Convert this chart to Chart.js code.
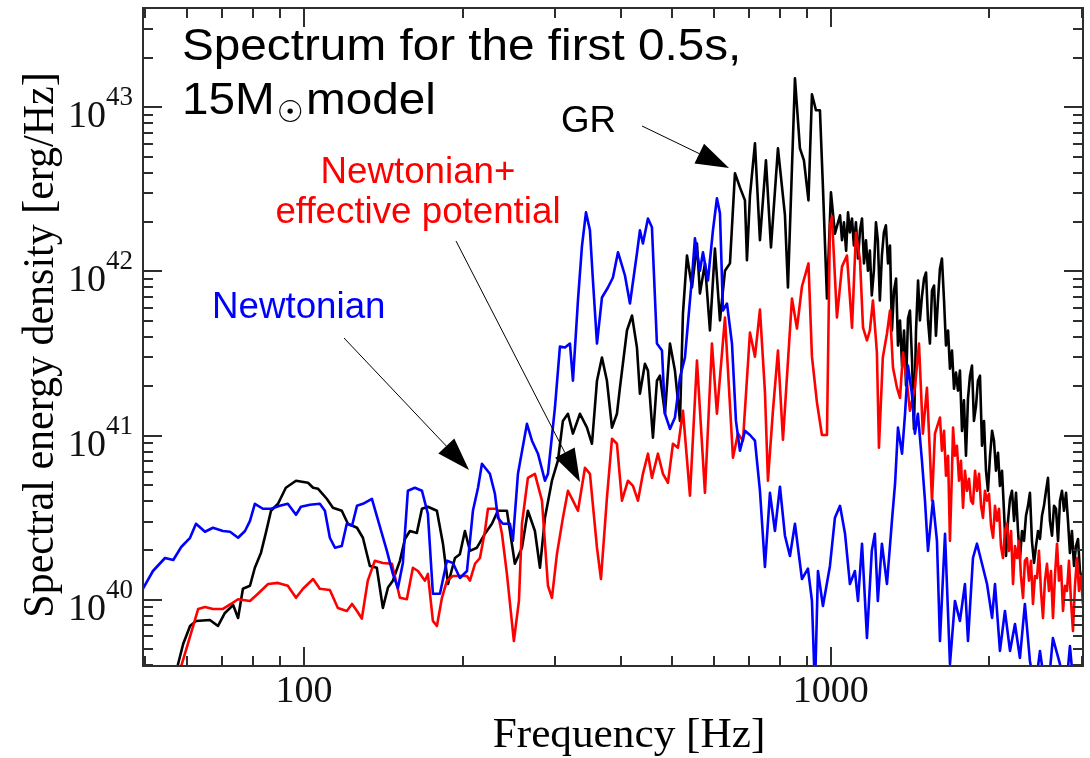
<!DOCTYPE html>
<html>
<head>
<meta charset="utf-8">
<script src="https://cdn.jsdelivr.net/npm/chart.js@4.4.1/dist/chart.umd.min.js"></script>
<style>
  html, body { margin: 0; padding: 0; background: #fff; }
  #wrap { width: 1090px; height: 758px; }
</style>
</head>
<body>
<div id="wrap"><canvas id="chart" width="1090" height="758"></canvas></div>
<script>
// spectral energy density, in units of 1e40 erg/Hz
const newtFreq = [49.5, 51.7, 54.5, 56.5, 58.5, 60.8, 62.4, 64.9, 67.2, 70.2, 72.4, 75.0, 77.3, 79.0, 80.7, 83.6, 86.6, 90.0, 93.2, 96.6,
  98.7, 102.7, 107.2, 109.6, 112.0, 114.5, 118.0, 120.6, 123.4, 126.1, 129.4, 134.6, 137.5, 143.7, 147.5, 150.8, 154.1, 157.5, 162.4, 167.5,
  171.9, 175.7, 181.2, 186.8, 191.8, 197.7, 203.9, 209.3, 214.0, 217.7, 225.4, 230.4, 233.4, 238.6, 246.0, 249.2, 254.8, 265.0, 270.9, 278.1,
  286.7, 290.5, 299.5, 306.1, 312.9, 319.8, 324.0, 331.2, 337.0, 343.0, 349.0, 353.6, 359.9, 367.8, 377.6, 385.9, 394.5, 406.7, 415.7, 428.6,
  434.2, 439.9, 449.7, 457.6, 467.7, 478.1, 484.4, 495.1, 506.0, 517.2, 528.6, 545.1, 552.2, 564.4, 571.9, 584.5, 597.4, 607.9, 616.0, 624.1,
  635.2, 649.2, 660.6, 672.2, 687.1, 702.3, 717.8, 733.6, 749.8, 766.4, 783.3, 800.6, 818.3, 836.4, 854.9, 881.4, 904.8, 920.8, 933.0, 945.3,
  966.1, 996.1, 1018, 1041, 1064, 1087, 1111, 1126, 1146, 1171, 1196, 1212, 1228, 1250, 1278, 1306, 1324, 1341, 1365, 1383,
  1401, 1425, 1444, 1463, 1489, 1509, 1529, 1562, 1590, 1611, 1647, 1683, 1720, 1758, 1797, 1821, 1861, 1894, 1936, 1979,
  2023, 2049, 2094, 2140, 2188, 2236, 2285, 2335, 2387, 2440, 2494, 2572, 2639, 2722, 2782, 2843, 2906, 3009];
const newtDensity = [1.17, 1.50, 1.80, 1.75, 2.10, 2.39, 2.91, 2.60, 2.75, 2.63, 2.60, 2.39, 2.63, 3.03, 3.85, 3.59, 3.59, 3.74, 3.85, 3.30,
  3.69, 3.80, 3.85, 3.49, 2.39, 2.08, 2.13, 2.91, 2.83, 3.74, 3.85, 4.13, 3.25, 1.99, 1.44, 1.18, 1.68, 4.62, 4.82, 4.62,
  3.34, 1.09, 1.09, 1.73, 1.68, 1.36, 1.50, 3.49, 4.82, 6.75, 5.86, 4.43, 3.16, 2.91, 2.91, 2.29, 5.86, 11.8, 9.32, 7.77,
  5.32, 5.86, 14.8, 34.9, 34.4, 36.4, 21.6, 66.6, 142, 229, 178, 88.1, 36.4, 69.4, 79.9, 91.9, 131, 94.5, 63.8, 129,
  178, 148, 210, 186, 36.4, 33.0, 13.6, 11.0, 12.9, 22.6, 29.9, 91.9, 159, 101, 131, 88.1, 178, 279, 226, 57.8,
  63.8, 36.4, 12.3, 8.10, 10.7, 10.1, 9.32, 4.62, 1.59, 4.49, 2.63, 4.89, 2.46, 1.85, 2.91, 1.34, 1.55, 0.986, 0.28, 1.50,
  0.919, 1.61, 3.16, 3.74, 2.53, 1.25, 1.50, 0.986, 2.20, 0.586, 1.99, 2.53, 0.986, 2.20, 1.25, 3.03, 5.10, 11.2, 7.77, 13.6,
  26.7, 18.0, 10.3, 13.6, 7.04, 4.02, 1.99, 4.02, 2.29, 0.562, 2.53, 0.407, 0.986, 0.745, 1.25, 0.562, 1.80, 2.20, 1.66, 1.25,
  0.777, 1.25, 0.489, 0.857, 0.489, 0.714, 0.443, 0.945, 0.425, 0.28, 0.489, 0.24, 0.586, 0.407, 0.24, 0.524, 0.24, 0.183];

const effFreq = [57.3, 58.5, 60.3, 63.0, 64.9, 67.2, 70.2, 72.7, 75.0, 79.0, 81.8, 85.5, 89.3, 93.2, 96.6, 99.6, 104.1, 107.2, 112.0, 116.0,
  120.6, 123.4, 126.1, 128.8, 132.2, 136.3, 141.2, 146.9, 152.1, 156.8, 161.0, 164.6, 169.7, 171.9, 175.7, 178.8, 182.8, 186.8, 191.8, 197.7,
  203.9, 206.6, 211.2, 215.8, 220.6, 223.5, 232.4, 237.6, 242.8, 250.3, 255.9, 259.3, 266.1, 274.4, 283.0, 290.5, 295.6, 302.1, 310.1, 317.0,
  324.0, 331.2, 341.5, 349.0, 359.9, 366.2, 375.9, 384.3, 392.7, 401.4, 412.1, 421.2, 430.5, 439.9, 449.7, 457.6, 469.7, 480.2, 490.8, 501.6,
  512.7, 524.0, 540.3, 557.1, 576.9, 594.8, 607.9, 629.6, 652.0, 666.4, 681.1, 702.3, 717.8, 733.6, 749.8, 759.7, 776.5, 793.7, 811.2, 843.8,
  862.4, 881.4, 906.9, 920.8, 941.2, 961.9, 983.2, 996.1, 1004.9, 1027, 1050, 1073, 1097, 1116, 1136, 1151, 1171, 1186, 1202, 1223,
  1234, 1255, 1278, 1295, 1312, 1335, 1353, 1371, 1395, 1413, 1444, 1470, 1495, 1522, 1556, 1576, 1611, 1625, 1640, 1654,
  1669, 1683, 1698, 1706, 1720, 1735, 1751, 1766, 1782, 1797, 1813, 1829, 1845, 1861, 1878, 1894, 1911, 1928, 1944, 1961,
  1979, 1996, 2014, 2032, 2049, 2067, 2085, 2103, 2122, 2140, 2160, 2178, 2198, 2217, 2236, 2256, 2276, 2295, 2316, 2335,
  2356, 2377, 2398, 2419, 2440, 2462, 2483, 2505, 2527, 2549, 2572, 2594, 2617, 2640, 2663, 2687, 2710, 2734, 2758, 2782,
  2807, 2831, 2856, 2881, 2906, 2932, 2958, 2983, 3009];
const effDensity = [0.242, 0.396, 0.547, 0.881, 0.906, 0.881, 0.881, 0.945, 1.01, 0.986, 1.09, 1.25, 1.27, 1.22, 1.03, 1.17, 1.34, 1.17, 1.15, 0.894,
  0.857, 0.945, 0.857, 0.770, 1.31, 1.73, 1.68, 1.66, 1.03, 1.01, 1.57, 1.50, 1.31, 1.44, 0.745, 0.694, 1.03, 1.31, 1.40, 1.40,
  1.40, 1.31, 1.66, 1.80, 2.63, 3.59, 3.59, 2.53, 1.44, 0.562, 0.986, 2.91, 5.54, 5.86, 4.02, 1.22, 1.03, 1.90, 3.16, 4.62,
  4.02, 3.49, 6.38, 5.86, 2.08, 1.34, 4.19, 9.58, 8.93, 4.02, 5.32, 4.95, 4.02, 5.86, 7.77, 5.54, 7.77, 5.86, 5.17, 8.93,
  8.45, 14.2, 4.31, 28.7, 4.49, 36.4, 13.6, 52.4, 7.34, 10.3, 9.32, 42.5, 30.3, 58.6, 18.5, 5.32, 14.2, 33.0, 9.45, 68.5,
  44.9, 81.0, 112, 30.3, 15.9, 10.1, 10.1, 191, 216, 52.4, 107, 125, 45.5, 172, 117, 45.5, 38.0, 43.7, 66.6, 32.1,
  8.45, 29.9, 41.9, 57.8, 26.0, 19.6, 17.0, 32.1, 20.8, 14.2, 19.6, 36.4, 10.3, 19.6, 4.02, 10.3, 12.9, 8.10, 10.7, 5.70,
  7.55, 2.29, 6.12, 11.2, 7.55, 8.69, 5.32, 7.04, 3.64, 6.12, 4.62, 5.47, 4.02, 3.85, 6.12, 4.62, 5.86, 3.74, 3.16, 4.62,
  4.02, 4.43, 2.83, 2.39, 3.74, 3.03, 3.59, 2.13, 1.80, 2.63, 2.91, 1.99, 2.63, 1.25, 2.13, 1.80, 2.29, 1.40, 1.03, 1.73,
  1.80, 1.31, 1.73, 0.945, 1.40, 1.36, 1.99, 1.135, 0.777, 1.31, 1.66, 1.135, 1.50, 0.777, 1.40, 2.20, 1.31, 1.61, 0.857, 1.22,
  1.135, 1.73, 0.986, 0.647, 1.22, 1.80, 1.135, 1.40, 0.945];

const grFreq = [55.8, 57.7, 59.0, 60.8, 62.4, 66.3, 68.7, 70.8, 73.4, 75.0, 76.6, 79.0, 80.7, 82.9, 84.7, 86.6, 89.3, 92.4, 96.6, 101.8,
  104.1, 106.4, 110.5, 113.5, 118.0, 121.2, 126.1, 129.4, 133.4, 137.5, 141.2, 144.4, 147.5, 152.1, 155.5, 158.9, 163.8, 167.5, 171.9, 178.8,
  183.6, 187.7, 193.5, 197.7, 202.1, 206.6, 213.0, 220.6, 227.4, 233.4, 242.8, 251.4, 259.3, 266.1, 274.4, 280.5, 286.7, 295.6, 303.4, 310.1,
  317.0, 324.0, 334.1, 344.5, 352.1, 359.9, 367.8, 375.9, 384.3, 392.7, 397.9, 410.3, 419.4, 428.6, 434.2, 443.8, 449.7, 459.6, 467.7, 473.9,
  484.4, 495.1, 506.0, 517.2, 524.0, 533.3, 545.1, 557.1, 564.4, 576.9, 589.6, 602.6, 616.0, 629.6, 643.5, 657.7, 672.2, 687.1, 693.1, 702.3,
  717.8, 733.6, 753.1, 769.8, 793.7, 818.3, 829.1, 854.9, 873.7, 889.1, 906.9, 920.8, 937.1, 953.5, 966.1, 983.2, 1000.5, 1018,
  1041, 1050, 1059, 1069, 1078, 1087, 1097, 1106, 1116, 1126, 1136, 1146, 1156, 1166, 1176, 1186, 1196, 1207, 1218, 1228,
  1239, 1250, 1261, 1272, 1284, 1295, 1306, 1318, 1330, 1341, 1353, 1365, 1377, 1389, 1401, 1413, 1426, 1438, 1451, 1464,
  1476, 1489, 1503, 1516, 1529, 1542, 1556, 1570, 1583, 1597, 1611, 1625, 1640, 1654, 1669, 1683, 1698, 1713, 1728, 1743,
  1758, 1774, 1789, 1805, 1821, 1837, 1853, 1869, 1886, 1902, 1919, 1936, 1953, 1970, 1987, 2005, 2023, 2040, 2058, 2076,
  2094, 2113, 2131, 2150, 2169, 2188, 2207, 2227, 2246, 2266, 2285, 2306, 2326, 2346, 2367, 2387, 2408, 2430, 2451, 2473,
  2494, 2516, 2538, 2561, 2583, 2605, 2629, 2652, 2675, 2699, 2722, 2746, 2770, 2795, 2819, 2843, 2868, 2894, 2919, 2945,
  2970, 3009];
const grDensity = [0.242, 0.407, 0.539, 0.694, 0.745, 0.755, 0.694, 0.833, 0.932, 0.777, 1.17, 1.22, 1.57, 1.94, 2.57, 3.49, 3.85, 4.82, 5.32, 5.17,
  4.82, 4.75, 4.13, 3.64, 3.49, 2.91, 2.75, 2.39, 1.61, 1.57, 0.894, 1.19, 1.31, 1.73, 2.35, 2.63, 2.56, 3.59, 3.69, 3.49,
  2.20, 1.25, 1.80, 1.90, 2.63, 1.99, 2.08, 2.53, 2.91, 3.49, 3.49, 1.66, 2.08, 3.49, 2.63, 1.57, 3.16, 5.32, 7.04, 12.3,
  13.6, 10.3, 13.6, 11.2, 8.93, 21.6, 29.9, 21.6, 11.2, 13.6, 19.6, 43.7, 53.9, 34.4, 18.0, 27.4, 24.9, 9.73, 21.6, 23.2,
  13.6, 36.4, 24.9, 12.3, 55.4, 125, 79.9, 148, 73.4, 112, 43.7, 138, 50.3, 101, 112, 396, 325, 271, 117, 290,
  603, 155, 475, 140, 562, 220, 79.9, 1502, 562, 475, 271, 1200, 959, 959, 325, 68.5, 303, 170,
  220, 155, 199, 134, 229, 173, 210, 144, 199, 120, 178, 210, 112, 155, 101, 134, 71.4, 101, 199, 155,
  66.6, 125, 173, 191, 112, 144, 43.7, 76.6, 90.6, 35.4, 50.3, 26.7, 43.7, 20.2, 51.7, 57.8, 28.7, 11.0, 43.7, 88.1,
  50.3, 70.4, 90.6, 98.6, 50.3, 36.4, 76.6, 82.1, 40.7, 66.6, 104, 120, 66.6, 35.4, 43.7, 25.6, 33.0, 19.3, 24.2, 18.8,
  24.9, 10.7, 16.4, 7.55, 16.8, 23.2, 26.7, 12.3, 15.2, 21.6, 23.2, 8.69, 12.3, 6.12, 4.62, 7.55, 10.7, 9.32, 6.12, 7.88,
  4.95, 6.12, 3.49, 1.85, 3.03, 4.13, 4.62, 3.03, 4.49, 2.63, 1.78, 2.63, 2.29, 3.25, 3.74, 4.49, 2.29, 1.68, 2.13, 2.63,
  2.35, 3.25, 3.74, 4.62, 5.54, 3.03, 2.46, 3.74, 3.59, 2.29, 4.02, 4.62, 3.49, 4.49, 3.03, 1.93, 2.63, 1.61, 2.13, 2.35,
  1.50, 1.25];

const densityUnit = 1e40;
const freqMin = 49.5, freqMax = 3010;
const densityMin = 3.96e39, densityMax = 4.02e43;
const xMajorTicks = [100, 1000];
const xTickLabels = ['100', '1000'];
const yExponents = [40, 41, 42, 43];

function toPoints(freq, dens) {
  return freq.map((f, i) => ({ x: f, y: dens[i] * densityUnit }));
}

function stretchedText(ctx, text, x, y, font, color, align, sx) {
  ctx.save();
  ctx.font = font;
  ctx.fillStyle = color;
  ctx.textAlign = align;
  ctx.textBaseline = 'alphabetic';
  ctx.translate(x, y);
  ctx.scale(sx, 1);
  ctx.fillText(text, 0, 0);
  ctx.restore();
}

function arrow(ctx, x0, y0, x1, y1, headLen, headHalf) {
  const a = Math.atan2(y1 - y0, x1 - x0);
  const c = Math.cos(a), s = Math.sin(a);
  const bx = x1 - headLen * c, by = y1 - headLen * s;
  ctx.save();
  ctx.strokeStyle = '#000';
  ctx.fillStyle = '#000';
  ctx.lineWidth = 1;
  ctx.beginPath();
  ctx.moveTo(x0, y0);
  ctx.lineTo(bx, by);
  ctx.stroke();
  ctx.beginPath();
  ctx.moveTo(x1, y1);
  ctx.lineTo(bx + headHalf * s, by - headHalf * c);
  ctx.lineTo(bx - headHalf * s, by + headHalf * c);
  ctx.closePath();
  ctx.fill();
  ctx.restore();
}

// frame, inward ticks, labels and annotations
const framePlugin = {
  id: 'frame',
  afterDraw(chart) {
    const ctx = chart.ctx;
    const a = chart.chartArea;
    const xs = chart.scales.x, ys = chart.scales.y;
    ctx.save();
    ctx.strokeStyle = '#2e2e2e';
    ctx.lineWidth = 2;
    ctx.strokeRect(a.left, a.top, a.right - a.left, a.bottom - a.top);

    ctx.beginPath();
    for (let d = 10; d <= 1000; d *= 10) {
      for (let m = 1; m <= 9; m++) {
        const f = d * m;
        if (f <= freqMin || f >= freqMax - 5) continue;
        const px = Math.round(xs.getPixelForValue(f));
        const len = m === 1 ? 19 : 10;
        ctx.moveTo(px, a.bottom); ctx.lineTo(px, a.bottom - len);
        ctx.moveTo(px, a.top); ctx.lineTo(px, a.top + len);
      }
    }
    for (let e = 39; e <= 43; e++) {
      for (let m = 1; m <= 9; m++) {
        const v = m * Math.pow(10, e);
        if (v <= densityMin || v >= densityMax) continue;
        const py = Math.round(ys.getPixelForValue(v));
        const len = m === 1 ? 19 : 10;
        ctx.moveTo(a.left, py); ctx.lineTo(a.left + len, py);
        ctx.moveTo(a.right, py); ctx.lineTo(a.right - len, py);
      }
    }
    ctx.stroke();
    ctx.restore();

    // tick labels
    ctx.save();
    ctx.fillStyle = '#111';
    ctx.textBaseline = 'alphabetic';
    ctx.font = '38px "Liberation Serif"';
    ctx.textAlign = 'center';
    xMajorTicks.forEach((f, i) => {
      ctx.fillText(xTickLabels[i], xs.getPixelForValue(f), 702);
    });
    yExponents.forEach(e => {
      const py = ys.getPixelForValue(Math.pow(10, e));
      ctx.font = '38px "Liberation Serif"';
      ctx.textAlign = 'right';
      ctx.fillText('10', 106, py + 20);
      ctx.font = '27px "Liberation Serif"';
      ctx.textAlign = 'left';
      ctx.fillText(String(e), 106, py - 2);
    });
    ctx.restore();

    // axis titles
    stretchedText(ctx, 'Frequency [Hz]', 629, 747, '42px "Liberation Serif"', '#000', 'center', 1.03);
    ctx.save();
    ctx.translate(53, 345);
    ctx.rotate(-Math.PI / 2);
    ctx.scale(1, 1.07);
    ctx.font = '42px "Liberation Serif"';
    ctx.fillStyle = '#000';
    ctx.textAlign = 'center';
    ctx.fillText('Spectral energy density [erg/Hz]', 0, 0);
    ctx.restore();

    // title
    stretchedText(ctx, 'Spectrum for the first 0.5s,', 182, 60, '45px "Liberation Sans"', '#000', 'left', 1.06);
    stretchedText(ctx, '15M', 182, 114, '45px "Liberation Sans"', '#000', 'left', 1.06);
    ctx.save();
    ctx.font = '30px "DejaVu Sans"';
    ctx.fillStyle = '#000';
    ctx.textAlign = 'center';
    ctx.textBaseline = 'middle';
    ctx.fillText('\u2609', 290, 114);
    ctx.restore();
    stretchedText(ctx, 'model', 306, 114, '45px "Liberation Sans"', '#000', 'left', 1.06);

    // series annotations
    stretchedText(ctx, 'GR', 561, 132, '36px "Liberation Sans"', '#000', 'left', 1.02);
    stretchedText(ctx, 'Newtonian', 212, 318, '36px "Liberation Sans"', '#0000ff', 'left', 1.02);
    stretchedText(ctx, 'Newtonian+', 418, 183, '36px "Liberation Sans"', '#ff0000', 'center', 1.02);
    stretchedText(ctx, 'effective potential', 418, 223, '36px "Liberation Sans"', '#ff0000', 'center', 1.02);

    arrow(ctx, 642, 126, 729, 168, 33, 11);
    arrow(ctx, 344, 338, 469, 470, 33, 11);
    arrow(ctx, 456, 241, 580, 482, 33, 11);
  }
};

new Chart(document.getElementById('chart'), {
  type: 'line',
  data: {
    datasets: [
      { label: 'Newtonian', data: toPoints(newtFreq, newtDensity), borderColor: '#0000ff' },
      { label: 'Newtonian+effective potential', data: toPoints(effFreq, effDensity), borderColor: '#ff0000' },
      { label: 'GR', data: toPoints(grFreq, grDensity), borderColor: '#000000' }
    ]
  },
  options: {
    responsive: false,
    animation: false,
    devicePixelRatio: 1,
    layout: { padding: { left: 143, right: 7, top: 8, bottom: 92 } },
    elements: {
      point: { radius: 0 },
      line: { borderWidth: 2.6, tension: 0, fill: false, borderJoinStyle: 'round', borderCapStyle: 'round' }
    },
    plugins: { legend: { display: false }, tooltip: { enabled: false } },
    scales: {
      x: { type: 'logarithmic', min: freqMin, max: freqMax, display: false },
      y: { type: 'logarithmic', min: densityMin, max: densityMax, display: false }
    }
  },
  plugins: [framePlugin]
});
</script>
</body>
</html>
